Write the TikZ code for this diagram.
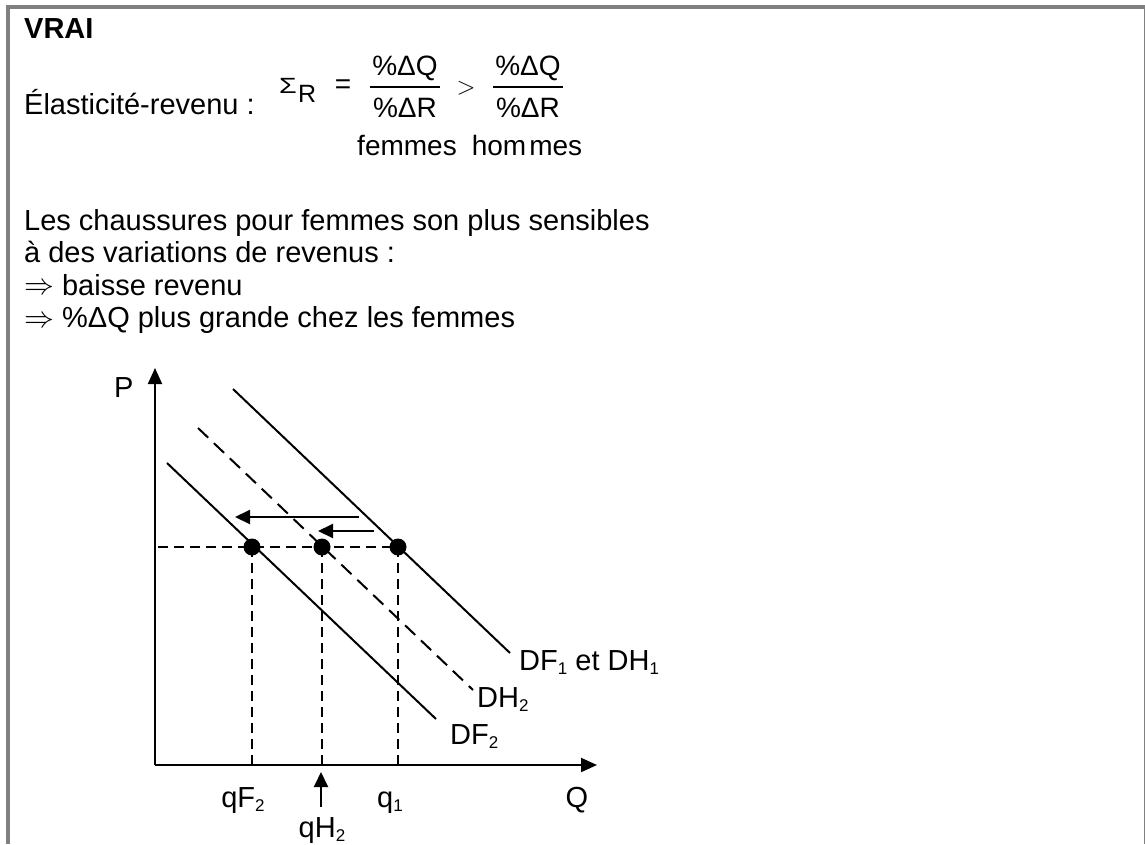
\documentclass[tikz,border=0pt]{standalone}
\usepackage{fontspec}
\setmainfont{Liberation Sans}
\usetikzlibrary{arrows.meta}
\newcommand\sbs[1]{\raisebox{-0.17em}{\fontsize{17}{17}\selectfont #1}}
\newcommand\implarrow{\smash{\raisebox{0.5pt}{\scalebox{1.2}{$\Rightarrow$}}}}
\begin{document}
\begin{tikzpicture}[x=1pt,y=-1pt,
  txt/.style={inner sep=0pt, anchor=base west, font=\fontsize{29}{33}\selectfont},
  ftxt/.style={inner sep=0pt, anchor=base, font=\fontsize{28}{28}\selectfont},
  curve/.style={line width=2pt},
  axis/.style={line width=2pt, -{Triangle[length=16pt,width=14pt]}},
  shiftarrow/.style={line width=2pt, -{Triangle[length=15pt,width=14pt]}},
  guide/.style={line width=2pt, dash pattern=on 10pt off 6pt},
  dot/.style={circle, fill=black, inner sep=0pt, minimum size=17pt},
  frame/.style={fill=black!50, draw=none}]
\useasboundingbox (0,0) rectangle (1145,844);
% frame
\fill[frame] (6,5) rectangle (1145,9);
\fill[frame] (6,5) rectangle (10,844);
\fill[frame] (1143.8,5) rectangle (1145,844);
% header text
\node[txt, font=\fontsize{29}{33}\selectfont\bfseries] (vrai) at (24,38) {VRAI};
\node[txt] (elast) at (24,114) {Élasticité-revenu :};
\node[inner sep=0pt, anchor=base west, font=\fontsize{22}{22}\selectfont] (sig) at (279,93) {\scalebox{1.3}[1]{Σ}};
\node[inner sep=0pt, anchor=base west, font=\fontsize{25}{25}\selectfont] (sigR) at (298,102) {R};
\node[inner sep=0pt, font=\fontsize{28}{28}\selectfont] (eq) at (343,87) {=};
\node[ftxt] (n1) at (405,75) {\%ΔQ};
\node[ftxt] (d1) at (405,117) {\%ΔR};
\draw[line width=1.5pt] (370,87) coordinate (b1l) -- (440,87) coordinate (b1r);
\node[inner sep=0pt, font=\fontsize{24}{24}\selectfont] (gt) at (466,88) {$>$};
\node[ftxt] (n2) at (528,75) {\%ΔQ};
\node[ftxt] (d2) at (528,117) {\%ΔR};
\draw[line width=1.5pt] (493,87) coordinate (b2l) -- (563,87) coordinate (b2r);
\node[ftxt] (fem) at (407,155) {femmes};
\node[ftxt] (hom) at (527,155) {hom\kern3pt mes};
% body text
\node[txt] (l1) at (24,230) {Les chaussures pour femmes son plus sensibles};
\node[txt] (l2) at (24,262.5) {à des variations de revenus :};
\node[txt] (l3) at (24,295) {\implarrow\ baisse revenu};
\node[txt] (l4) at (24,327.5) {\implarrow\ \%ΔQ plus grande chez les femmes};
% axes
\coordinate (O) at (155,765);
\coordinate (Ptip) at (155,368);
\coordinate (Qtip) at (597,765);
\draw[axis] (O) -- (Ptip);
\draw[axis] (O) -- (Qtip);
\node[txt] (P) at (114,397) {P};
\node[txt, anchor=base] (Q) at (577,807) {Q};
% demand curves
\coordinate (df1a) at (233,389); \coordinate (df1b) at (510,653);
\coordinate (dh2a) at (198,428); \coordinate (dh2b) at (473,690);
\coordinate (df2a) at (167,463); \coordinate (df2b) at (436,719);
\draw[curve] (df1a) -- (df1b);
\draw[curve, dash pattern=on 14pt off 8pt] (dh2a) -- (dh2b);
\draw[curve] (df2a) -- (df2b);
\node[txt] (ldf1) at (519,670) {DF\sbs{1} et DH\sbs{1}};
\node[txt] (ldh2) at (477,707) {DH\sbs{2}};
\node[txt] (ldf2) at (450,744) {DF\sbs{2}};
% guides
\coordinate (hp) at (158,547);
\coordinate (xF) at (252,765);
\coordinate (xH) at (322,765);
\coordinate (x1) at (398,765);
\draw[guide] (hp) -- (398,547) coordinate (pe);
\draw[guide] (252,547) -- (xF);
\draw[guide] (322,547) -- (xH);
\draw[guide] (398,547) -- (x1);
\node[dot] (eF) at (252,547) {};
\node[dot] (eH) at (322,547) {};
\node[dot] (e1) at (398,547) {};
% shift arrows
\coordinate (s1a) at (359,517); \coordinate (s1b) at (235,517);
\coordinate (s2a) at (374,531); \coordinate (s2b) at (318,531);
\draw[shiftarrow] (s1a) -- (s1b);
\draw[shiftarrow] (s2a) -- (s2b);
% axis labels
\node[txt, anchor=base] (qF2) at (243,807) {qF\sbs{2}};
\node[txt, anchor=base] (q1) at (390,807) {q\sbs{1}};
\node[txt, anchor=base] (qH2) at (322,837) {qH\sbs{2}};
\coordinate (qHa) at (321,807);
\coordinate (qHb) at (321,772);
\draw[shiftarrow] (qHa) -- (qHb);
\end{tikzpicture}
\end{document}
